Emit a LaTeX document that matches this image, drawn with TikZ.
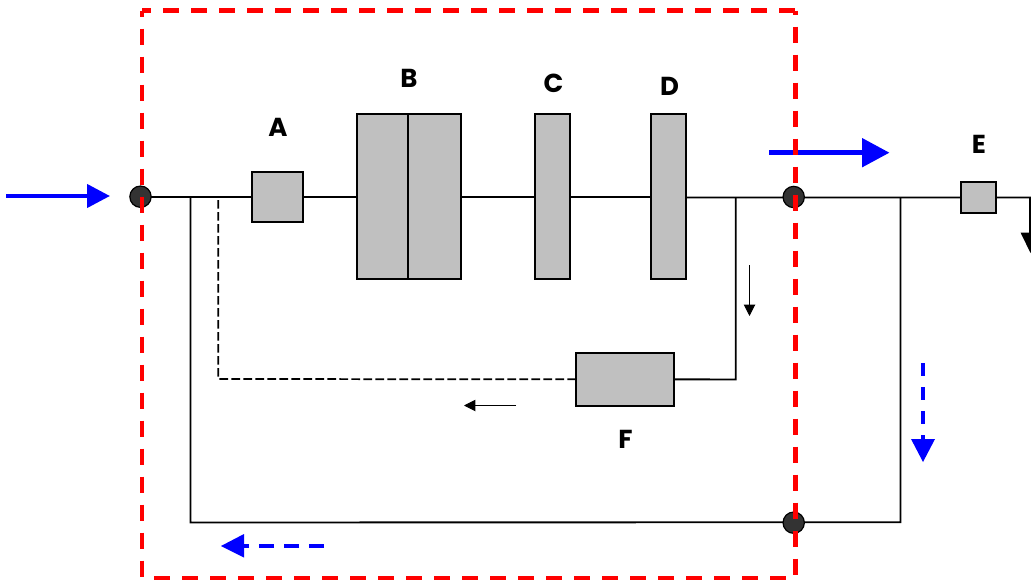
\documentclass[tikz,border=0pt]{standalone}
\usepackage{fontspec}
\setmainfont{Poppins}
\usetikzlibrary{arrows.meta}
\definecolor{boxgray}{RGB}{192,192,192}
\definecolor{dotgray}{RGB}{51,51,51}
\begin{document}
\begin{tikzpicture}[x=0.75pt,y=-0.75pt,
  unit/.style={draw=black,line width=1.5pt,fill=boxgray,anchor=north west,inner sep=0pt,outer sep=0pt},
  junction/.style={circle,draw=black,line width=0.9pt,fill=dotgray,minimum size=16pt,inner sep=0pt,outer sep=0pt},
  letter/.style={font=\bfseries\fontsize{19.5}{20}\selectfont,text=black,inner sep=0pt},
  pipe/.style={draw=black,line width=1.4pt},
  bluearrow/.style={draw=blue,line width=3.2pt,-{Triangle[length=17.25pt,width=17.25pt]}},
  bluearrowlarge/.style={draw=blue,line width=3.5pt,-{Triangle[length=20.5pt,width=21pt]}},
  bluedash/.style={draw=blue,line width=3.2pt},
  smallarrow/.style={draw=black,line width=0.75pt,-{Triangle[length=8.5pt,width=8.5pt]}},
  boundary/.style={draw=red,line width=3.3pt,dash pattern=on 12pt off 9pt}]
\useasboundingbox (0,0) rectangle (1031,581);
\path[fill=white] (0,0) rectangle (1031,581);

\coordinate (T1) at (190.5,197);
\coordinate (T2) at (218.3,197);
\coordinate (T3) at (735.8,197.5);
\coordinate (T4) at (900.5,197.5);
\coordinate (T5) at (900.5,522.2);
\coordinate (L1) at (190.5,522.5);
\coordinate (L2) at (218.3,379);
\coordinate (R1) at (735.8,379.5);
\coordinate (Eout) at (1030,197.5);
\coordinate (Edown) at (1030,234);

\node[unit,minimum width=37.9pt,minimum height=37.5pt] (A) at (252,172) {};
\node[unit,minimum width=38.6pt,minimum height=123.5pt] (B1) at (357,114) {};
\node[unit,minimum width=39.5pt,minimum height=123.5pt] (B2) at (408,114) {};
\node[unit,minimum width=25.9pt,minimum height=123.5pt] (C) at (535,114) {};
\node[unit,minimum width=25.9pt,minimum height=123.5pt] (D) at (651,114) {};
\node[unit,minimum width=73.3pt,minimum height=39.5pt] (F) at (576,353) {};
\node[unit,minimum width=26pt,minimum height=23.7pt] (E) at (961,181.7) {};

\draw[pipe] (141,197) -- (T1) -- (A.west);
\draw[pipe] (A.east) -- (A.east -| B1.west);
\draw[pipe] (B2.east |- 0,197) -- (C.west |- 0,197);
\draw[pipe] (C.east |- 0,197) -- (D.west |- 0,197);
\draw[pipe] (D.east |- 0,197.5) -- (T3) -- (T4) -- (E.west);
\draw[pipe] (T1) -- (L1) -- (T5) -- (T4);
\draw[pipe] (T3) -- (R1) -- (F.east);
\draw[draw=black,line width=1.3pt,dash pattern=on 6.5pt off 2.5pt] (F.west) -- (L2) -- (T2);
\draw[pipe] (E.east) -- (Eout) -- (Edown);
\fill[black] (1020.5,232.5) -- (1040,232.5) -- (1030.5,253) -- cycle;

\node[junction] (J1) at (140.5,196.7) {};
\node[junction] (J2) at (793.7,197) {};
\node[junction] (J3) at (793.7,522.7) {};

\coordinate (a1s) at (6,196); \coordinate (a1e) at (110,196);
\coordinate (a2s) at (769,152.7); \coordinate (a2e) at (889.5,152.7);
\draw[bluearrow] (a1s) -- (a1e);
\draw[bluearrowlarge] (a2s) -- (a2e);
\coordinate (a3s) at (923,363); \coordinate (a3e) at (923,462);
\coordinate (a4s) at (324,546); \coordinate (a4e) at (221,546);
\draw[bluedash,dash pattern=on 10pt off 8pt] (a3s) -- (923,440);
\fill[blue] (911,439) -- (935,439) -- (923,462) -- cycle;
\draw[bluedash,dash pattern=on 11pt off 7.75pt] (a4s) -- (244,546);
\fill[blue] (221,546) -- (244,534) -- (244,557.5) -- cycle;

\coordinate (s1s) at (749.5,265); \coordinate (s1e) at (749.5,316);
\coordinate (s2s) at (516,405.5); \coordinate (s2e) at (464,405.5);
\draw[smallarrow] (s1s) -- (s1e);
\draw[smallarrow] (s2s) -- (s2e);

\coordinate (tl) at (142,10.7);
\coordinate (tr) at (795.5,10.7);
\coordinate (bl) at (142,577.7);
\coordinate (br) at (795.5,577.7);
\draw[boundary,dash phase=5.25pt] (tl) -- (tr);
\draw[boundary,dash phase=7.5pt] (tl) -- (bl);
\draw[boundary,dash phase=9pt] (tr) -- (br);
\draw[boundary,dash phase=12pt] (bl) -- (br);

\node[letter] (la) at (278,127) {A};
\node[letter] (lb) at (409,78.5) {B};
\node[letter] (lc) at (553.5,83.5) {C};
\node[letter] (ld) at (669.5,86) {D};
\node[letter] (le) at (979,144.5) {E};
\node[letter] (lf) at (625.5,439.5) {F};
\end{tikzpicture}
\end{document}
